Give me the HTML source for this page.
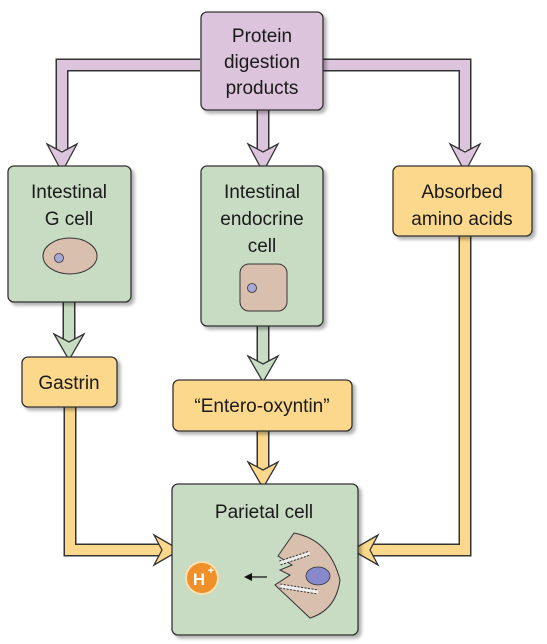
<!DOCTYPE html>
<html><head><meta charset="utf-8"><style>
body{margin:0;background:#fff}
svg{display:block}
text{font-family:"Liberation Sans",sans-serif;fill:#1a1a1a;text-anchor:middle}
</style></head><body>
<svg width="547" height="644" viewBox="0 0 547 644">
<defs>
<filter id="sh" x="-10%" y="-10%" width="130%" height="130%"><feDropShadow dx="3" dy="3" stdDeviation="1.5" flood-color="#000" flood-opacity="0.3"/></filter>
</defs>
<g>
<polyline points="200,65 62,65 62,150" fill="none" stroke="#333" stroke-width="13"/>
<polyline points="200,65 62,65 62,150" fill="none" stroke="#dcc4dc" stroke-width="10"/>
<polyline points="323,65 465,65 465,150" fill="none" stroke="#333" stroke-width="13"/>
<polyline points="323,65 465,65 465,150" fill="none" stroke="#dcc4dc" stroke-width="10"/>
<line x1="263" y1="108" x2="263" y2="150" stroke="#333" stroke-width="13"/>
<line x1="263" y1="108" x2="263" y2="152" stroke="#dcc4dc" stroke-width="10"/>
<polygon points="47,144 62,152 77,144 62,172" fill="#dcc4dc" stroke="#333" stroke-width="1.3"/>
<polygon points="248,144 263,152 278,144 263,172" fill="#dcc4dc" stroke="#333" stroke-width="1.3"/>
<polygon points="450,144 465,152 480,144 465,172" fill="#dcc4dc" stroke="#333" stroke-width="1.3"/>
</g>
<g>
<line x1="69" y1="300" x2="69" y2="340" stroke="#333" stroke-width="13"/>
<line x1="69" y1="300" x2="69" y2="342" stroke="#c8dcc4" stroke-width="10"/>
<polygon points="54,334 69,342 84,334 69,360" fill="#c8dcc4" stroke="#333" stroke-width="1.3"/>
<line x1="263" y1="325" x2="263" y2="362" stroke="#333" stroke-width="13"/>
<line x1="263" y1="325" x2="263" y2="364" stroke="#c8dcc4" stroke-width="10"/>
<polygon points="248,356 263,364 278,356 263,382" fill="#c8dcc4" stroke="#333" stroke-width="1.3"/>
</g>
<g>
<polyline points="70,405 70,550 160,550" fill="none" stroke="#333" stroke-width="13"/>
<polyline points="70,405 70,550 162,550" fill="none" stroke="#fcd88c" stroke-width="10"/>
<polygon points="154,535 162,550 154,565 180,550" fill="#fcd88c" stroke="#333" stroke-width="1.3"/>
<polyline points="465,233 465,550 372,550" fill="none" stroke="#333" stroke-width="13"/>
<polyline points="465,233 465,550 370,550" fill="none" stroke="#fcd88c" stroke-width="10"/>
<polygon points="378,535 370,550 378,565 352,550" fill="#fcd88c" stroke="#333" stroke-width="1.3"/>
<line x1="263" y1="429" x2="263" y2="468" stroke="#333" stroke-width="13"/>
<line x1="263" y1="429" x2="263" y2="470" stroke="#fcd88c" stroke-width="10"/>
<polygon points="248,462 263,470 278,462 263,488" fill="#fcd88c" stroke="#333" stroke-width="1.3"/>
</g>
<g>
<rect x="201" y="12" width="122" height="98" rx="6" fill="#dcc4dc" stroke="#333" stroke-width="1.3" filter="url(#sh)"/>
<text x="262" y="42" font-size="19">Protein</text>
<text x="262" y="68" font-size="19">digestion</text>
<text x="262" y="94" font-size="19">products</text>
</g>
<g>
<rect x="8" y="166" width="123" height="136" rx="6" fill="#c8dcc4" stroke="#333" stroke-width="1.3" filter="url(#sh)"/>
<text x="69" y="198" font-size="19">Intestinal</text>
<text x="69" y="225" font-size="19">G cell</text>
<ellipse cx="70" cy="256" rx="27" ry="18" fill="#d8bfae" stroke="#333" stroke-width="1"/>
<circle cx="59" cy="258" r="4.5" fill="#a8a8d8" stroke="#333" stroke-width="0.8"/>
</g>
<g>
<rect x="201" y="166" width="122" height="160" rx="6" fill="#c8dcc4" stroke="#333" stroke-width="1.3" filter="url(#sh)"/>
<text x="262" y="198" font-size="19">Intestinal</text>
<text x="262" y="225" font-size="19">endocrine</text>
<text x="262" y="252" font-size="19">cell</text>
<rect x="240" y="264" width="47" height="47" rx="9" fill="#d8bfae" stroke="#333" stroke-width="1"/>
<circle cx="252" cy="288" r="4.5" fill="#a8a8d8" stroke="#333" stroke-width="0.8"/>
</g>
<g>
<rect x="393" y="166" width="139" height="70" rx="6" fill="#fcd88c" stroke="#333" stroke-width="1.3" filter="url(#sh)"/>
<text x="462" y="198" font-size="19">Absorbed</text>
<text x="462" y="225" font-size="19">amino acids</text>
</g>
<g>
<rect x="22" y="357" width="95" height="50" rx="6" fill="#fcd88c" stroke="#333" stroke-width="1.3" filter="url(#sh)"/>
<text x="69" y="389" font-size="19">Gastrin</text>
</g>
<g>
<rect x="173" y="380" width="179" height="51" rx="6" fill="#fcd88c" stroke="#333" stroke-width="1.3" filter="url(#sh)"/>
<text x="262" y="412" font-size="19">“Entero-oxyntin”</text>
</g>
<g>
<rect x="172" y="484" width="186" height="151" rx="6" fill="#c8dcc4" stroke="#333" stroke-width="1.3" filter="url(#sh)"/>
<text x="264" y="518" font-size="19">Parietal cell</text>
<path d="M294,533 Q330,540 340,580 Q336,610 310,618 L275,585 L290,575 L280,570 L292,565 L278,556 L294,533Z" fill="#d8bfae" stroke="#333" stroke-width="1"/>
<path d="M280,563 L310,553 M280,586 L318,592" stroke="#333" stroke-width="5" fill="none" stroke-dasharray="2 1.5"/>
<path d="M280,563 L310,553 M280,586 L318,592" stroke="#eee" stroke-width="3" fill="none"/>
<ellipse cx="318" cy="576" rx="12" ry="9" fill="#8888cc" stroke="#333" stroke-width="0.8"/>
<line x1="267" y1="577" x2="250" y2="577" stroke="#111" stroke-width="1.3"/>
<polygon points="244,577 252,573 252,581" fill="#111"/>
<circle cx="202" cy="578" r="16" fill="#f0902a" stroke="#fbe0b0" stroke-width="2"/>
<text x="199" y="585" font-size="17" font-weight="bold" style="fill:#fff">H</text>
<text x="211" y="574" font-size="11" font-weight="bold" style="fill:#fff">+</text>
</g>
</svg>
</body></html>
